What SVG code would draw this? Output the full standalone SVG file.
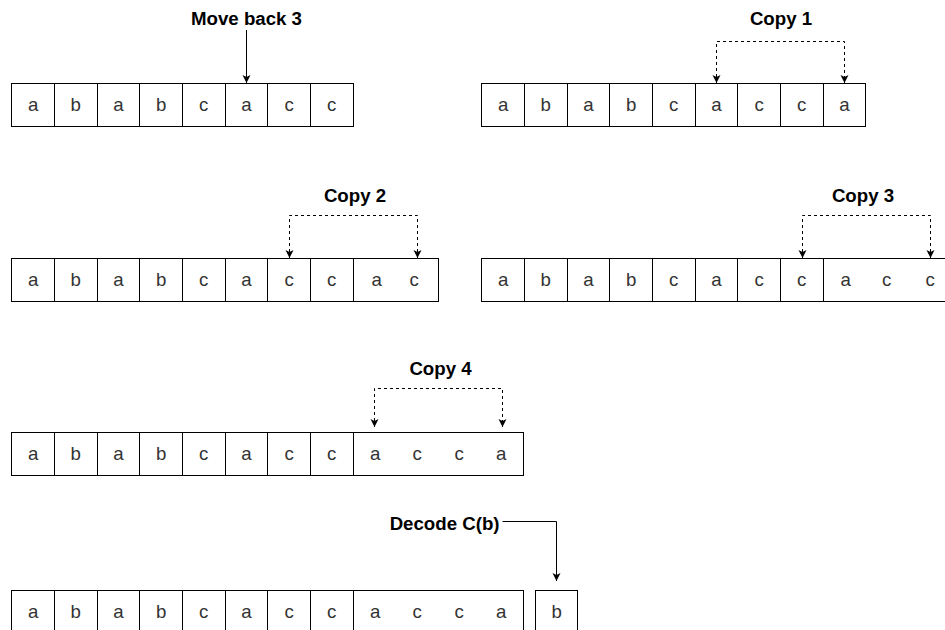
<svg xmlns="http://www.w3.org/2000/svg" width="945" height="630" viewBox="0 0 945 630">
  <style>
    .cell { fill: #ffffff; stroke: #000000; stroke-width: 1; shape-rendering: crispEdges; }
    .ch { font-family: "Liberation Sans", Arial, Helvetica, sans-serif; font-size: 18.67px; fill: #333333; text-anchor: middle; }
    .lbl { font-family: "Liberation Sans", Arial, Helvetica, sans-serif; font-size: 18.67px; font-weight: bold; fill: #000000; text-anchor: middle; }
    .edge { fill: none; stroke: #000000; stroke-width: 1; }
    .dash { stroke-dasharray: 3 3; }
  </style>
  <defs>
    <marker id="arrow" markerUnits="userSpaceOnUse" markerWidth="12" markerHeight="12" viewBox="-10 -6 12 12" refX="0" refY="0" orient="auto-start-reverse">
      <path d="M0,0 L-8,-4 L-6,0 L-8,4 Z" fill="#000000" stroke="none"/>
    </marker>
  </defs>

  <rect width="945" height="630" fill="#ffffff"/>

  <!-- Step 1: move back 3 -->
  <g id="row1-left" transform="translate(11.75,83)">
    <rect class="cell" x="0" y="0" width="42.667" height="43"/>
    <rect class="cell" x="42.667" y="0" width="42.667" height="43"/>
    <rect class="cell" x="85.333" y="0" width="42.667" height="43"/>
    <rect class="cell" x="128" y="0" width="42.667" height="43"/>
    <rect class="cell" x="170.667" y="0" width="42.667" height="43"/>
    <rect class="cell" x="213.333" y="0" width="42.667" height="43"/>
    <rect class="cell" x="256" y="0" width="42.667" height="43"/>
    <rect class="cell" x="298.667" y="0" width="42.667" height="43"/>
    <text class="ch" x="21.33" y="27.7">a</text>
    <text class="ch" x="64" y="27.7">b</text>
    <text class="ch" x="106.67" y="27.7">a</text>
    <text class="ch" x="149.33" y="27.7">b</text>
    <text class="ch" x="192" y="27.7">c</text>
    <text class="ch" x="234.67" y="27.7">a</text>
    <text class="ch" x="277.33" y="27.7">c</text>
    <text class="ch" x="320" y="27.7">c</text>
  </g>
  <g id="label-move-back"><text class="lbl" x="246.5" y="25">Move back 3</text></g>

  <!-- Step 2: copy 1 -->
  <g id="row1-right" transform="translate(481.75,83)">
    <rect class="cell" x="0" y="0" width="42.667" height="43"/>
    <rect class="cell" x="42.667" y="0" width="42.667" height="43"/>
    <rect class="cell" x="85.333" y="0" width="42.667" height="43"/>
    <rect class="cell" x="128" y="0" width="42.667" height="43"/>
    <rect class="cell" x="170.667" y="0" width="42.667" height="43"/>
    <rect class="cell" x="213.333" y="0" width="42.667" height="43"/>
    <rect class="cell" x="256" y="0" width="42.667" height="43"/>
    <rect class="cell" x="298.667" y="0" width="42.667" height="43"/>
    <rect class="cell" x="341.333" y="0" width="42.667" height="43"/>
    <text class="ch" x="21.33" y="27.7">a</text>
    <text class="ch" x="64" y="27.7">b</text>
    <text class="ch" x="106.67" y="27.7">a</text>
    <text class="ch" x="149.33" y="27.7">b</text>
    <text class="ch" x="192" y="27.7">c</text>
    <text class="ch" x="234.67" y="27.7">a</text>
    <text class="ch" x="277.33" y="27.7">c</text>
    <text class="ch" x="320" y="27.7">c</text>
    <text class="ch" x="362.67" y="27.7">a</text>
  </g>
  <g id="label-copy1"><text class="lbl" x="781" y="25">Copy 1</text></g>

  <!-- Step 3: copy 2 -->
  <g id="row2-left" transform="translate(11.75,258)">
    <rect class="cell" x="0" y="0" width="42.667" height="43"/>
    <rect class="cell" x="42.667" y="0" width="42.667" height="43"/>
    <rect class="cell" x="85.333" y="0" width="42.667" height="43"/>
    <rect class="cell" x="128" y="0" width="42.667" height="43"/>
    <rect class="cell" x="170.667" y="0" width="42.667" height="43"/>
    <rect class="cell" x="213.333" y="0" width="42.667" height="43"/>
    <rect class="cell" x="256" y="0" width="42.667" height="43"/>
    <rect class="cell" x="298.667" y="0" width="42.667" height="43"/>
    <rect class="cell" x="341.333" y="0" width="85.333" height="43"/>
    <text class="ch" x="21.33" y="27.7">a</text>
    <text class="ch" x="64" y="27.7">b</text>
    <text class="ch" x="106.67" y="27.7">a</text>
    <text class="ch" x="149.33" y="27.7">b</text>
    <text class="ch" x="192" y="27.7">c</text>
    <text class="ch" x="234.67" y="27.7">a</text>
    <text class="ch" x="277.33" y="27.7">c</text>
    <text class="ch" x="320" y="27.7">c</text>
    <text class="ch" y="27.7"><tspan x="365">a</tspan><tspan x="402.5">c</tspan></text>
  </g>
  <g id="label-copy2"><text class="lbl" x="355" y="202">Copy 2</text></g>

  <!-- Step 4: copy 3 -->
  <g id="row2-right" transform="translate(481.75,258)">
    <rect class="cell" x="0" y="0" width="42.667" height="43"/>
    <rect class="cell" x="42.667" y="0" width="42.667" height="43"/>
    <rect class="cell" x="85.333" y="0" width="42.667" height="43"/>
    <rect class="cell" x="128" y="0" width="42.667" height="43"/>
    <rect class="cell" x="170.667" y="0" width="42.667" height="43"/>
    <rect class="cell" x="213.333" y="0" width="42.667" height="43"/>
    <rect class="cell" x="256" y="0" width="42.667" height="43"/>
    <rect class="cell" x="298.667" y="0" width="42.667" height="43"/>
    <rect class="cell" x="341.333" y="0" width="128" height="43"/>
    <text class="ch" x="21.33" y="27.7">a</text>
    <text class="ch" x="64" y="27.7">b</text>
    <text class="ch" x="106.67" y="27.7">a</text>
    <text class="ch" x="149.33" y="27.7">b</text>
    <text class="ch" x="192" y="27.7">c</text>
    <text class="ch" x="234.67" y="27.7">a</text>
    <text class="ch" x="277.33" y="27.7">c</text>
    <text class="ch" x="320" y="27.7">c</text>
    <text class="ch" y="27.7"><tspan x="364">a</tspan><tspan x="405">c</tspan><tspan x="448.5">c</tspan></text>
  </g>
  <g id="label-copy3"><text class="lbl" x="863" y="202">Copy 3</text></g>

  <!-- Step 5: copy 4 -->
  <g id="row3" transform="translate(11.75,432)">
    <rect class="cell" x="0" y="0" width="42.667" height="43"/>
    <rect class="cell" x="42.667" y="0" width="42.667" height="43"/>
    <rect class="cell" x="85.333" y="0" width="42.667" height="43"/>
    <rect class="cell" x="128" y="0" width="42.667" height="43"/>
    <rect class="cell" x="170.667" y="0" width="42.667" height="43"/>
    <rect class="cell" x="213.333" y="0" width="42.667" height="43"/>
    <rect class="cell" x="256" y="0" width="42.667" height="43"/>
    <rect class="cell" x="298.667" y="0" width="42.667" height="43"/>
    <rect class="cell" x="341.333" y="0" width="170.667" height="43"/>
    <text class="ch" x="21.33" y="27.7">a</text>
    <text class="ch" x="64" y="27.7">b</text>
    <text class="ch" x="106.67" y="27.7">a</text>
    <text class="ch" x="149.33" y="27.7">b</text>
    <text class="ch" x="192" y="27.7">c</text>
    <text class="ch" x="234.67" y="27.7">a</text>
    <text class="ch" x="277.33" y="27.7">c</text>
    <text class="ch" x="320" y="27.7">c</text>
    <text class="ch" y="27.7"><tspan x="363.5">a</tspan><tspan x="405.5">c</tspan><tspan x="447.5">c</tspan><tspan x="489.5">a</tspan></text>
  </g>
  <g id="label-copy4"><text class="lbl" x="440.5" y="374.5">Copy 4</text></g>

  <!-- Step 6: decode the literal -->
  <g id="row4" transform="translate(11.75,590)">
    <rect class="cell" x="0" y="0" width="42.667" height="43"/>
    <rect class="cell" x="42.667" y="0" width="42.667" height="43"/>
    <rect class="cell" x="85.333" y="0" width="42.667" height="43"/>
    <rect class="cell" x="128" y="0" width="42.667" height="43"/>
    <rect class="cell" x="170.667" y="0" width="42.667" height="43"/>
    <rect class="cell" x="213.333" y="0" width="42.667" height="43"/>
    <rect class="cell" x="256" y="0" width="42.667" height="43"/>
    <rect class="cell" x="298.667" y="0" width="42.667" height="43"/>
    <rect class="cell" x="341.333" y="0" width="170.667" height="43"/>
    <text class="ch" x="21.33" y="27.7">a</text>
    <text class="ch" x="64" y="27.7">b</text>
    <text class="ch" x="106.67" y="27.7">a</text>
    <text class="ch" x="149.33" y="27.7">b</text>
    <text class="ch" x="192" y="27.7">c</text>
    <text class="ch" x="234.67" y="27.7">a</text>
    <text class="ch" x="277.33" y="27.7">c</text>
    <text class="ch" x="320" y="27.7">c</text>
    <text class="ch" y="27.7"><tspan x="363.5">a</tspan><tspan x="405.5">c</tspan><tspan x="447.5">c</tspan><tspan x="489.5">a</tspan></text>
  </g>
  <g id="cell-b" transform="translate(535.25,590)">
    <rect class="cell" x="0" y="0" width="42.667" height="43"/>
    <text class="ch" x="21.33" y="27.7">b</text>
  </g>
  <g id="label-decode"><text class="lbl" x="499.5" y="530" style="text-anchor:end">Decode C(b)</text></g>

  <!-- Connectors -->
  <g id="connectors">
    <path class="edge" d="M246.5,30 V83" marker-end="url(#arrow)"/>
    <path class="edge dash" d="M716.5,83 V41.5 H844.5 V83" marker-start="url(#arrow)" marker-end="url(#arrow)"/>
    <path class="edge dash" d="M289.5,258 V215.5 H417.5 V258" marker-start="url(#arrow)" marker-end="url(#arrow)"/>
    <path class="edge dash" d="M802.5,258 V215.5 H930.5 V258" marker-start="url(#arrow)" marker-end="url(#arrow)"/>
    <path class="edge dash" d="M374.5,427 V388.5 H502.5 V427" marker-start="url(#arrow)" marker-end="url(#arrow)"/>
    <path class="edge" d="M502.5,521.5 H556.5 V581" marker-end="url(#arrow)"/>
  </g>
</svg>
